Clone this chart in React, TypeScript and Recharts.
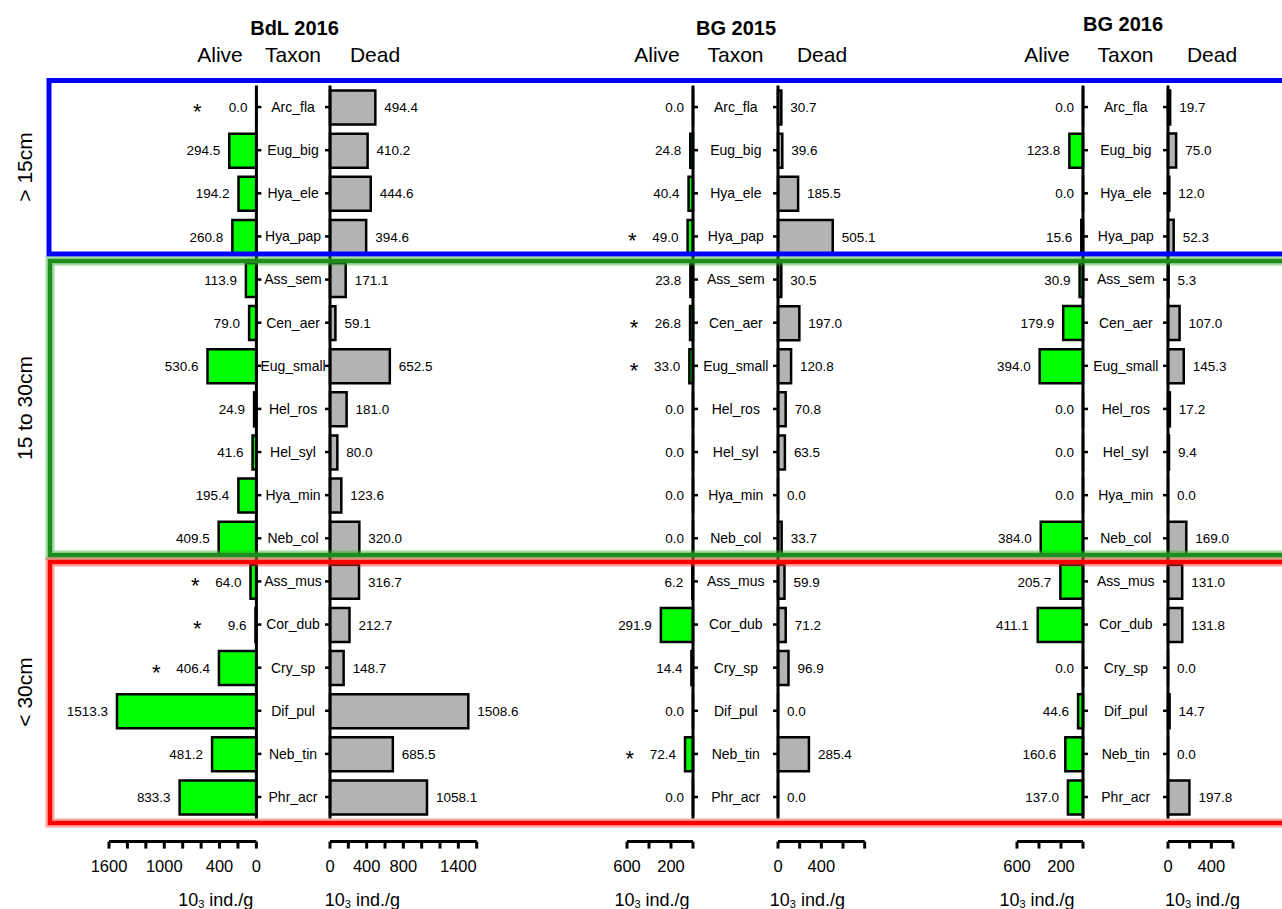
import React from 'react';
import { BarChart, Bar, XAxis, YAxis, LabelList } from 'recharts';

// ---------- data ----------
const taxa = [
  'Arc_fla', 'Eug_big', 'Hya_ele', 'Hya_pap',
  'Ass_sem', 'Cen_aer', 'Eug_small', 'Hel_ros', 'Hel_syl', 'Hya_min', 'Neb_col',
  'Ass_mus', 'Cor_dub', 'Cry_sp', 'Dif_pul', 'Neb_tin', 'Phr_acr',
];

const bdl2016Alive = [0.0, 294.5, 194.2, 260.8, 113.9, 79.0, 530.6, 24.9, 41.6, 195.4, 409.5, 64.0, 9.6, 406.4, 1513.3, 481.2, 833.3];
const bdl2016Dead = [494.4, 410.2, 444.6, 394.6, 171.1, 59.1, 652.5, 181.0, 80.0, 123.6, 320.0, 316.7, 212.7, 148.7, 1508.6, 685.5, 1058.1];
const bdl2016Stars = [1, 0, 0, 0, 0, 0, 0, 0, 0, 0, 0, 1, 1, 1, 0, 0, 0];

const bg2015Alive = [0.0, 24.8, 40.4, 49.0, 23.8, 26.8, 33.0, 0.0, 0.0, 0.0, 0.0, 6.2, 291.9, 14.4, 0.0, 72.4, 0.0];
const bg2015Dead = [30.7, 39.6, 185.5, 505.1, 30.5, 197.0, 120.8, 70.8, 63.5, 0.0, 33.7, 59.9, 71.2, 96.9, 0.0, 285.4, 0.0];
const bg2015Stars = [0, 0, 0, 1, 0, 1, 1, 0, 0, 0, 0, 0, 0, 0, 0, 1, 0];

const bg2016Alive = [0.0, 123.8, 0.0, 15.6, 30.9, 179.9, 394.0, 0.0, 0.0, 0.0, 384.0, 205.7, 411.1, 0.0, 44.6, 160.6, 137.0];
const bg2016Dead = [19.7, 75.0, 12.0, 52.3, 5.3, 107.0, 145.3, 17.2, 9.4, 0.0, 169.0, 131.0, 131.8, 0.0, 14.7, 0.0, 197.8];
const bg2016Stars = [0, 0, 0, 0, 0, 0, 0, 0, 0, 0, 0, 0, 0, 0, 0, 0, 0];

const bdlAliveTicks = [0, 200, 400, 600, 800, 1000, 1200, 1400, 1600];
const bdlAliveTickLabels = [0, 400, 1000, 1600];
const bdlDeadTicks = [0, 200, 400, 600, 800, 1000, 1200, 1400, 1600];
const bdlDeadTickLabels = [0, 400, 800, 1400];
const bg2015AliveTicks = [0, 200, 400, 600];
const bg2015AliveTickLabels = [200, 600];
const bg2015DeadTicks = [0, 200, 400, 600, 800];
const bg2015DeadTickLabels = [0, 400];
const bg2016AliveTicks = [0, 200, 400, 600];
const bg2016AliveTickLabels = [200, 600];
const bg2016DeadTicks = [0, 200, 400, 600];
const bg2016DeadTickLabels = [0, 400];

const panelTitles = ['BdL 2016', 'BG 2015', 'BG 2016'];
const columnHeads = ['Alive', 'Taxon', 'Dead'];
const groupNames = ['> 15cm', '15 to 30cm', '< 30cm'];
const unitMain = '10';
const unitSub = '3';
const unitRest = ' ind./g';

// ---------- layout / style ----------
const FONT = '"Liberation Sans", Arial, Helvetica, sans-serif';
const TOP = 85.5;
const CAT_H = 733.1;
const PAD_BOTTOM = 23;
const XAXIS_H = 66;
const CHART_H = 909;
const MARGIN_BOTTOM = CHART_H - TOP - CAT_H - PAD_BOTTOM - XAXIS_H;
const VAL_FS = 13.5;
const GREEN = '#00ff00';
const GREY = '#b3b3b3';

const buildRows = (alive: number[], dead: number[], stars: number[]) =>
  taxa.map((t, i) => ({ taxon: t, alive: alive[i], dead: dead[i], star: stars[i] }));

const textWidth = (s: string, fs: number) =>
  s.split('').reduce((acc, c) => acc + (c === '.' ? 0.278 : 0.556) * fs, 0);

function getBox(p: any) {
  const vb = p.viewBox && typeof p.viewBox.x === 'number' ? p.viewBox : p;
  const x = Number(vb.x);
  const w = Number(vb.width);
  const y = Number(vb.y);
  const h = Number(vb.height);
  return { left: Math.min(x, x + w), right: Math.max(x, x + w), cy: y + h / 2 };
}

function starOf(p: any, rows: any[]) {
  if (p.payload && typeof p.payload.star === 'number') return p.payload.star;
  const i = Number(p.index);
  return rows[i] ? rows[i].star : 0;
}

function makeAliveLabel(rows: any[]) {
  return (p: any) => {
    const { left, right, cy } = getBox(p);
    const v = Number(p.value);
    const txt = v.toFixed(1);
    const ax = left - 9;
    const star = starOf(p, rows);
    const labelLeft = ax - textWidth(txt, VAL_FS);
    const starX = Math.min(labelLeft - 20, right - 59);
    return (
      <g key={`al-${p.index}-${txt}`}>
        <text x={ax} y={cy} dy="0.35em" textAnchor="end" fontSize={VAL_FS} fill="#000">{txt}</text>
        {star ? (
          <text x={starX} y={cy + 11.5} textAnchor="middle" fontSize={22} fill="#000">*</text>
        ) : null}
      </g>
    );
  };
}

function makeDeadLabel() {
  return (p: any) => {
    const { right, cy } = getBox(p);
    const v = Number(p.value);
    return (
      <text key={`dl-${p.index}`} x={right + 9} y={cy} dy="0.35em" textAnchor="start" fontSize={VAL_FS} fill="#000">
        {v.toFixed(1)}
      </text>
    );
  };
}

function TaxonTick(props: any) {
  const { x, y, payload, shift } = props;
  return (
    <text x={x + shift} y={y} dy="0.35em" textAnchor="middle" fontSize={14} fill="#000">
      {payload.value}
    </text>
  );
}

function EmptyTick() {
  return <g />;
}

function UnitLabel(props: any) {
  const vb = props.viewBox || {};
  const cx = Number(vb.x) + Number(vb.width) / 2 + props.dx;
  return (
    <text x={cx} y={906} textAnchor="middle" fontSize={18} fill="#000">
      {unitMain}
      <tspan fontSize={11} dy={2}>{unitSub}</tspan>
      <tspan dy={-2}>{unitRest}</tspan>
    </text>
  );
}

function AliveChart({ rows, zeroX, plotW, gap, max, ticks, tickLabels, unitDx }: any) {
  const extraL = 95;
  const left = zeroX - plotW - extraL;
  const width = extraL + plotW + gap;
  return (
    <div style={{ position: 'absolute', left, top: 0 }}>
      <BarChart
        layout="vertical"
        width={width}
        height={CHART_H}
        data={rows}
        margin={{ top: TOP, right: 0, bottom: MARGIN_BOTTOM, left: extraL }}
      >
        <XAxis
          type="number"
          domain={[0, max]}
          ticks={ticks}
          interval={0}
          reversed
          height={XAXIS_H}
          axisLine={{ stroke: '#000', strokeWidth: 3 }}
          tickLine={{ stroke: '#000', strokeWidth: 3 }}
          tickSize={7}
          tickMargin={12}
          tick={{ fill: '#000', fontSize: 16.5 }}
          tickFormatter={(v: number) => (tickLabels.includes(v) ? String(v) : '')}
          label={(p: any) => <UnitLabel {...p} dx={unitDx} />}
        />
        <YAxis
          type="category"
          dataKey="taxon"
          orientation="right"
          width={gap}
          interval={0}
          padding={{ top: 0, bottom: PAD_BOTTOM }}
          axisLine={{ stroke: '#000', strokeWidth: 3, strokeDasharray: `${CAT_H} 3000` }}
          tickLine={{ stroke: '#000', strokeWidth: 2.5 }}
          tickSize={5}
          tickMargin={0}
          tick={<TaxonTick shift={gap / 2 - 5} />}
        />
        <Bar dataKey="alive" fill={GREEN} stroke="#000" strokeWidth={2.5} barSize={34}
          minPointSize={0.01} isAnimationActive={false}>
          <LabelList dataKey="alive" content={makeAliveLabel(rows)} />
        </Bar>
      </BarChart>
    </div>
  );
}

function DeadChart({ rows, zeroX, plotW, max, ticks, tickLabels, unitDx }: any) {
  const yw = 12;
  const extraR = 70;
  const left = zeroX - yw;
  const width = yw + plotW + extraR;
  return (
    <div style={{ position: 'absolute', left, top: 0 }}>
      <BarChart
        layout="vertical"
        width={width}
        height={CHART_H}
        data={rows}
        margin={{ top: TOP, right: extraR, bottom: MARGIN_BOTTOM, left: 0 }}
      >
        <XAxis
          type="number"
          domain={[0, max]}
          ticks={ticks}
          interval={0}
          height={XAXIS_H}
          axisLine={{ stroke: '#000', strokeWidth: 3 }}
          tickLine={{ stroke: '#000', strokeWidth: 3 }}
          tickSize={7}
          tickMargin={12}
          tick={{ fill: '#000', fontSize: 16.5 }}
          tickFormatter={(v: number) => (tickLabels.includes(v) ? String(v) : '')}
          label={(p: any) => <UnitLabel {...p} dx={unitDx} />}
        />
        <YAxis
          type="category"
          dataKey="taxon"
          orientation="left"
          width={yw}
          interval={0}
          padding={{ top: 0, bottom: PAD_BOTTOM }}
          axisLine={{ stroke: '#000', strokeWidth: 3, strokeDasharray: `${CAT_H} 3000` }}
          tickLine={{ stroke: '#000', strokeWidth: 2.5 }}
          tickSize={5}
          tickMargin={0}
          tick={<EmptyTick />}
        />
        <Bar dataKey="dead" fill={GREY} stroke="#000" strokeWidth={2.5} barSize={34}
          minPointSize={0.01} isAnimationActive={false}>
          <LabelList dataKey="dead" content={makeDeadLabel()} />
        </Bar>
      </BarChart>
    </div>
  );
}

function GlowRect({ x, y, w, h, core, glow }: any) {
  return (
    <g fill="none">
      <rect x={x} y={y} width={w} height={h} stroke={glow} strokeWidth={10} strokeOpacity={0.25} />
      <rect x={x} y={y} width={w} height={h} stroke={glow} strokeWidth={7} strokeOpacity={0.45} />
      <rect x={x} y={y} width={w} height={h} stroke={core} strokeWidth={4} />
    </g>
  );
}

export default function App() {
  const rowsBdl = buildRows(bdl2016Alive, bdl2016Dead, bdl2016Stars);
  const rows15 = buildRows(bg2015Alive, bg2015Dead, bg2015Stars);
  const rows16 = buildRows(bg2016Alive, bg2016Dead, bg2016Stars);

  const titleX = [294.5, 736, 1123];
  const titleY = [35, 35, 31];
  const headX = [
    [220, 293, 375],
    [657, 735.5, 822],
    [1047, 1125.5, 1212],
  ];
  const groupY = [167, 408, 692];

  return (
    <div
      style={{
        position: 'absolute',
        left: 0,
        top: 0,
        width: 1282,
        height: 909,
        overflow: 'hidden',
        background: '#fff',
        fontFamily: FONT,
      }}
    >
      <AliveChart rows={rowsBdl} zeroX={256.7} plotW={147.4} gap={73.3} max={1600}
        ticks={bdlAliveTicks} tickLabels={bdlAliveTickLabels} unitDx={33} />
      <DeadChart rows={rowsBdl} zeroX={330} plotW={146.7} max={1600}
        ticks={bdlDeadTicks} tickLabels={bdlDeadTickLabels} unitDx={-41} />

      <AliveChart rows={rows15} zeroX={692.7} plotW={66} gap={85.6} max={600}
        ticks={bg2015AliveTicks} tickLabels={bg2015AliveTickLabels} unitDx={-8} />
      <DeadChart rows={rows15} zeroX={778.3} plotW={86.7} max={800}
        ticks={bg2015DeadTicks} tickLabels={bg2015DeadTickLabels} unitDx={-14} />

      <AliveChart rows={rows16} zeroX={1082.7} plotW={66} gap={85.6} max={600}
        ticks={bg2016AliveTicks} tickLabels={bg2016AliveTickLabels} unitDx={-13} />
      <DeadChart rows={rows16} zeroX={1168.3} plotW={65} max={600}
        ticks={bg2016DeadTicks} tickLabels={bg2016DeadTickLabels} unitDx={2} />

      <svg
        width={1282}
        height={909}
        style={{ position: 'absolute', left: 0, top: 0, pointerEvents: 'none' }}
      >
        {panelTitles.map((t, i) => (
          <text key={t} x={titleX[i]} y={titleY[i]} textAnchor="middle" fontSize={20} fontWeight="bold" fill="#000">
            {t}
          </text>
        ))}
        {headX.map((xs, i) =>
          xs.map((x, j) => (
            <text key={`h-${i}-${j}`} x={x} y={61.5} textAnchor="middle" fontSize={21} fill="#000">
              {columnHeads[j]}
            </text>
          ))
        )}
        {groupNames.map((g, i) => (
          <text
            key={g}
            transform={`translate(24, ${groupY[i]}) rotate(-90)`}
            textAnchor="middle"
            dominantBaseline="central"
            fontSize={21}
            fill="#000"
          >
            {g}
          </text>
        ))}
        <rect x={49} y={80.5} width={1300} height={173.5} fill="none" stroke="#0000ff" strokeWidth={5} />
        <GlowRect x={50} y={261} w={1300} h={294} core="#1e8c1e" glow="#2eaa2e" />
        <GlowRect x={50} y={562} w={1300} h={261} core="#ff0000" glow="#ff3030" />
      </svg>
    </div>
  );
}
